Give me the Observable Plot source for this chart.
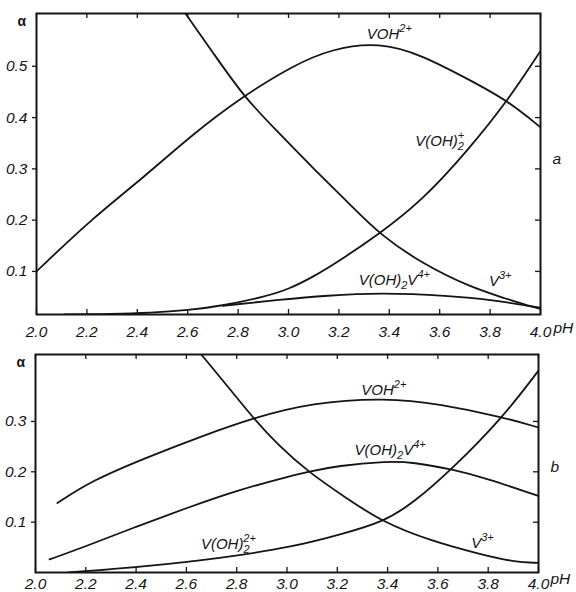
<!DOCTYPE html>
<html><head><meta charset="utf-8">
<script src="https://cdn.jsdelivr.net/npm/d3@7"></script>
<script src="https://cdn.jsdelivr.net/npm/@observablehq/plot@0.6"></script>
<style>
body{margin:0;background:#fff;}
#chart{width:576px;height:592px;overflow:hidden;}
#chart svg{display:block;}
#chart svg text, #chart svg g[aria-label$="tick label"]{font-style:italic !important;}
</style></head><body><div id="chart"></div>
<script>
// ---------- tick values ----------
const xTicks = [2.0, 2.2, 2.4, 2.6, 2.8, 3.0, 3.2, 3.4, 3.6, 3.8, 4.0];
const yTicksA = [0.1, 0.2, 0.3, 0.4, 0.5];
const yTicksB = [0.1, 0.2, 0.3];

// ---------- panel a ----------
const a_VOH_pH    = [2.0, 2.22, 2.41, 2.62, 2.82, 3.02, 3.17, 3.36, 3.53, 3.72, 3.87, 4.0];
const a_VOH_alpha = [0.10, 0.203, 0.277, 0.368, 0.442, 0.502, 0.534, 0.547, 0.522, 0.473, 0.433, 0.381];
const a_V3_pH     = [2.591, 2.704, 2.824, 2.95, 3.1, 3.25, 3.36, 3.534, 3.723, 3.869, 3.95, 4.0];
const a_V3_alpha  = [0.603, 0.524, 0.44, 0.376, 0.3, 0.228, 0.173, 0.114, 0.069, 0.046, 0.033, 0.027];
const a_VOH2_pH    = [2.11, 2.3, 2.45, 2.6, 2.75, 2.9, 3.0, 3.1, 3.2, 3.36, 3.53, 3.71, 3.87, 4.0];
const a_VOH2_alpha = [0.016, 0.017, 0.019, 0.024, 0.034, 0.05, 0.065, 0.09, 0.12, 0.173, 0.238, 0.335, 0.433, 0.53];
const a_Dim_pH    = [2.74, 2.97, 3.15, 3.365, 3.63, 3.83, 3.95, 4.0];
const a_Dim_alpha = [0.033, 0.045, 0.053, 0.0585, 0.053, 0.043, 0.033, 0.029];

const a_labels = ["VOH^{2+}", "V(OH)_{2}^{+}", "V(OH)_{2}V^{4+}", "V^{3+}"];
const a_labelPH = [3.40, 3.60, 3.42, 3.84];
const a_labelAlpha = [0.562, 0.354, 0.082, 0.080];

// ---------- panel b ----------
const b_VOH_pH    = [2.087, 2.225, 2.444, 2.662, 2.865, 3.098, 3.39, 3.61, 3.855, 4.0];
const b_VOH_alpha = [0.138, 0.183, 0.229, 0.271, 0.307, 0.3375, 0.347, 0.335, 0.309, 0.288];
const b_Dim_pH    = [2.056, 2.2, 2.4, 2.6, 2.8, 3.0, 3.084, 3.2, 3.4, 3.5, 3.658, 3.8, 4.0];
const b_Dim_alpha = [0.026, 0.052, 0.091, 0.128, 0.163, 0.19, 0.2, 0.212, 0.221, 0.219, 0.205, 0.186, 0.152];
const b_V3_pH     = [2.659, 2.764, 2.865, 2.967, 3.084, 3.229, 3.38, 3.57, 3.77, 3.9, 4.0];
const b_V3_alpha  = [0.433, 0.37, 0.307, 0.252, 0.2, 0.15, 0.1, 0.063, 0.036, 0.021, 0.019];
const b_VOH2_pH    = [2.13, 2.44, 2.73, 3.03, 3.23, 3.38, 3.5, 3.658, 3.86, 4.0];
const b_VOH2_alpha = [0.0, 0.012, 0.028, 0.051, 0.078, 0.1, 0.137, 0.206, 0.309, 0.401];

const b_labels = ["VOH^{2+}", "V(OH)_{2}V^{4+}", "V(OH)_{2}^{2+}", "V^{3+}"];
const b_labelPH = [3.385, 3.41, 2.767, 3.777];
const b_labelAlpha = [0.3625, 0.243, 0.056, 0.058];

// ---------- helpers ----------
const series = (name, xs, ys) => xs.map((x, i) => ({name, pH: x, alpha: ys[i]}));
const labelRows = (t, xs, ys) => t.map((s, i) => ({text: s, pH: xs[i], alpha: ys[i]}));

const FONT = '"Liberation Sans",Arial,sans-serif';
const INK = "#141414";
const fmt = d3.format(".1f");

function rich(el, F) {
  const s = el.textContent;
  if (!/[\^_]\{/.test(s)) return;
  const f = Math.round(F * 0.7);
  const parts = s.split(/(\^\{[^}]*\}|_\{[^}]*\})/).filter(p => p !== "");
  el.textContent = "";
  let shift = 0, prevSub = 0;
  const NS = "http://www.w3.org/2000/svg";
  for (const p of parts) {
    const t = document.createElementNS(NS, "tspan");
    if (p.startsWith("_{")) {
      const c = p.slice(2, -1);
      t.textContent = c;
      t.setAttribute("font-size", f);
      t.setAttribute("dy", 4 - shift); shift = 4;
      prevSub = c.length;
    } else if (p.startsWith("^{")) {
      const c = p.slice(2, -1);
      t.textContent = c;
      t.setAttribute("font-size", f);
      if (prevSub) t.setAttribute("dx", -prevSub * 0.56 * f);
      t.setAttribute("dy", -7 - shift); shift = -7;
      prevSub = 0;
    } else {
      t.textContent = p;
      t.setAttribute("dy", -shift); shift = 0;
      prevSub = 0;
    }
    el.appendChild(t);
  }
}

function panel(o) {
  const innerW = o.w - o.ml - o.mr, innerH = o.h - o.mt - o.mb;
  const svg = Plot.plot({
    width: o.w, height: o.h,
    marginTop: o.mt, marginBottom: o.mb, marginLeft: o.ml, marginRight: o.mr,
    style: {fontFamily: FONT, fontSize: "15px", color: INK, background: "#fff", overflow: "visible"},
    x: {domain: [2, 4]},
    y: {domain: o.ydom},
    marks: [
      Plot.ruleX(xTicks, {insetTop: innerH - 5, stroke: INK, strokeWidth: 1.3}),
      Plot.ruleX(xTicks, {insetBottom: innerH - 5, stroke: INK, strokeWidth: 1.3}),
      Plot.ruleY(o.yticks, {insetLeft: innerW - 5, stroke: INK, strokeWidth: 1.3}),
      Plot.axisX(xTicks, {anchor: "bottom", tickSize: 0, tickPadding: o.xpad, tickFormat: fmt, label: null, fontSize: 15.5}),
      Plot.axisY(o.yticks, {anchor: "left", tickSize: 4, tickPadding: 5, tickFormat: fmt, label: null, fontSize: 15.5, strokeWidth: 1.3}),
      Plot.line(o.lines, {x: "pH", y: "alpha", z: "name", curve: "basis", stroke: INK, strokeWidth: 1.8, clip: true}),
      Plot.text(o.labels, {x: "pH", y: "alpha", text: "text", fontSize: 15, fill: INK}),
      Plot.text(["α"], {frameAnchor: "top-left", dx: -19, dy: 3, fontSize: 14, fontWeight: "bold", fill: INK}),
      Plot.text(["pH"], {frameAnchor: "bottom-right", textAnchor: "start", dx: o.pHdx, dy: o.pHdy, fontSize: 15.5, fill: INK}),
      Plot.text([o.tag], {frameAnchor: "right", textAnchor: "start", dx: 12, dy: o.tagdy, fontSize: 15.5, fill: INK}),
      Plot.frame({stroke: INK, strokeWidth: 2})
    ]
  });
  svg.querySelectorAll("text").forEach(t => rich(t, 15));
  svg.querySelectorAll("text").forEach(t => {
    if (t.textContent === "α") t.style.setProperty("font-style", "normal", "important");
    else t.style.setProperty("font-style", "italic", "important");
  });
  return svg;
}

const linesA = [
  ...series("VOH2+", a_VOH_pH, a_VOH_alpha),
  ...series("V3+", a_V3_pH, a_V3_alpha),
  ...series("V(OH)2+", a_VOH2_pH, a_VOH2_alpha),
  ...series("V(OH)2V4+", a_Dim_pH, a_Dim_alpha)
];
const linesB = [
  ...series("VOH2+", b_VOH_pH, b_VOH_alpha),
  ...series("V(OH)2V4+", b_Dim_pH, b_Dim_alpha),
  ...series("V3+", b_V3_pH, b_V3_alpha),
  ...series("V(OH)2 2+", b_VOH2_pH, b_VOH2_alpha)
];

const chart = document.getElementById("chart");
chart.appendChild(panel({
  w: 576, h: 340, mt: 13, mb: 26, ml: 36, mr: 36,
  ydom: [0.016, 0.603], yticks: yTicksA, xpad: 11,
  lines: linesA, labels: labelRows(a_labels, a_labelPH, a_labelAlpha),
  tag: "a", tagdy: -5, pHdx: 13, pHdy: 18
}));
chart.appendChild(panel({
  w: 576, h: 252, mt: 14, mb: 20, ml: 35, mr: 38,
  ydom: [0, 0.433], yticks: yTicksB, xpad: 5,
  lines: linesB, labels: labelRows(b_labels, b_labelPH, b_labelAlpha),
  tag: "b", tagdy: 4, pHdx: 12, pHdy: 11
}));
</script>
</body></html>
